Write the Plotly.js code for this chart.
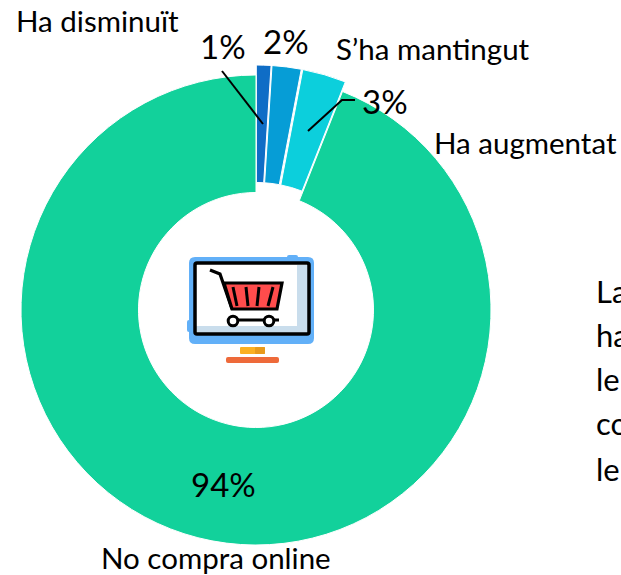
<!DOCTYPE html>
<html><head><meta charset="utf-8">
<script src="https://cdn.plot.ly/plotly-3.0.1.min.js"></script>
<style>html,body{margin:0;padding:0;background:#fff;overflow:hidden}#c{width:621px;height:575px}</style>
</head><body><div id="c"></div>
<script>
const categories = ["Ha disminuït", "S’ha mantingut", "Ha augmentat", "No compra online"];
const values = [1, 2, 3, 94];
const colors = ["#0F6DC6", "#069DD6", "#0CCFDC", "#12D19B"];
const pulls = [0.0425, 0.0425, 0.0425, 0];
const sideText = ["La", "ha", "le", "co", "le"];
const sideY = [291, 335, 379, 423, 469];
const catPos = [[14,21],[334,48],[432,143],[99,557]];
const pctPos = [[198,46],[261,41],[360,101],[189,484]];

const W = 621, H = 575, FONT = "Lato, sans-serif";
const px = x => x / W, py = y => 1 - y / H;
function poly(pts, close) {
  return "M" + pts.map(p => px(p[0]) + "," + py(p[1])).join("L") + (close ? "Z" : "");
}
function shp(pts, fill, lineColor, lw, close) {
  return {type:"path", xref:"paper", yref:"paper", path:poly(pts, close !== false),
    fillcolor: fill || "rgba(0,0,0,0)", line:{color:lineColor || "rgba(0,0,0,0)", width:lw || 0}};
}
function round(x0,y0,x1,y1,r,fill,lineColor,lw){
  const p = (x,y) => px(x) + "," + py(y);
  const d = "M"+p(x0+r,y0)+"L"+p(x1-r,y0)+"Q"+p(x1,y0)+" "+p(x1,y0+r)+"L"+p(x1,y1-r)+"Q"+p(x1,y1)+" "+p(x1-r,y1)
    +"L"+p(x0+r,y1)+"Q"+p(x0,y1)+" "+p(x0,y1-r)+"L"+p(x0,y0+r)+"Q"+p(x0,y0)+" "+p(x0+r,y0)+"Z";
  return {type:"path", xref:"paper", yref:"paper", path:d, fillcolor:fill||"rgba(0,0,0,0)",
    line:{color:lineColor||"rgba(0,0,0,0)", width:lw||0}};
}
function circ(cx,cy,r,fill,lineColor,lw){
  return {type:"circle", xref:"paper", yref:"paper", x0:px(cx-r), x1:px(cx+r), y0:py(cy-r), y1:py(cy+r),
    fillcolor:fill, line:{color:lineColor, width:lw}};
}
const shapes = [
  // leader lines
  shp([[222,71],[263,124]], null, "#000", 2, false),
  shp([[308,131],[342,100],[355,100]], null, "#000", 2, false),
  // monitor icon
  round(189,257,314,344,6,"#62B0F8"),
  round(287,255,298,260,2,"#62B0F8"),
  round(187,320,192,332,2,"#62B0F8"),
  round(195,263,309,334,2,"#FFFFFF"),
  round(297,265,308,333,0,"#C9DDEC"),
  round(196,326,308,333,0,"#C9DDEC"),
  round(195,263,309,334,2,null,"#000",3.5),
  round(240,347,265,354,1,"#FBB022"),
  round(255,347,265,354,1,"#E89A1C"),
  round(226,357,279,363,2,"#EE6A3A"),
  // cart
  shp([[210,270],[220,274],[232,309]], null, "#000", 3.2, false),
  shp([[224,283],[282,283],[277,309],[232,309]],"#FF4C4C","#000",3.2),
  shp([[233,287],[237,306]], null, "#000", 3, false),
  shp([[246,287],[248,306]], null, "#000", 3, false),
  shp([[259,287],[257,306]], null, "#000", 3, false),
  shp([[273,287],[268,306]], null, "#000", 3, false),
  shp([[233,320],[279,320]], null, "#000", 3, false),
  circ(233,321,4.8,"#FFF","#000",3),
  circ(269,321,4.8,"#FFF","#000",3)
];
const txt = (t,x,y,size) => ({text:t, x:px(x), y:py(y), xref:"paper", yref:"paper",
  xanchor:"left", yanchor:"middle", showarrow:false, font:{family:FONT, size:size, color:"#000"}});
const annotations = [
  ...categories.map((c,i) => txt(c, catPos[i][0], catPos[i][1], 29.5)),
  ...values.map((v,i) => txt(v + "%", pctPos[i][0], pctPos[i][1], 33)),
  ...sideText.map((t,i) => txt(t, 594, sideY[i], 31))
];
const D = 490;
Plotly.newPlot("c", [{
  type:"pie", labels:categories, values:values, hole:0.5, sort:false, direction:"clockwise", rotation:0,
  pull:pulls, textinfo:"none", hoverinfo:"label+percent",
  marker:{colors:colors, line:{color:"#FFFFFF", width:1}},
  domain:{x:[(256-D/2)/W,(256+D/2)/W], y:[1-(310+D/2)/H,1-(310-D/2)/H]}
}], {
  width:W, height:H, margin:{l:0,r:0,t:0,b:0}, showlegend:false,
  paper_bgcolor:"#fff", shapes:shapes, annotations:annotations
}, {displayModeBar:false, staticPlot:true});
</script></body></html>
